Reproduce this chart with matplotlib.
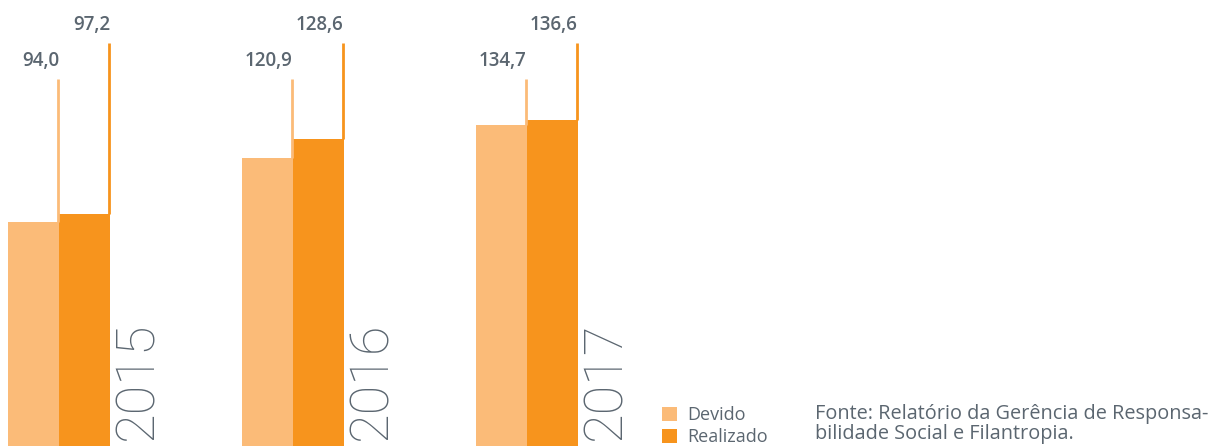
import matplotlib
matplotlib.use('Agg')
import matplotlib.pyplot as plt
import numpy as np

# data
years = ['2015', '2016', '2017']
devido = [94.0, 120.9, 134.7]
realizado = [97.2, 128.6, 136.6]
legend_labels = ['Devido', 'Realizado']
source = 'Fonte: Relatório da Gerência de Responsa-\nbilidade Social e Filantropia.'

c_dev = '#FBBB78'
c_real = '#F7941D'
c_text = '#5B6670'

plt.rcParams['font.family'] = ['Open Sans', 'DejaVu Sans']

W, H = 1222, 446
fig = plt.figure(figsize=(W / 100, H / 100), dpi=100)
ax = fig.add_axes([0, 0, 1, 1])

step = 233.75          # pixels between groups
px = 1.0 / step        # one pixel in x data units
py = 1.0 / 2.385       # one pixel in y data units
w = 51 * px

x = np.arange(len(years))
b1 = ax.bar(x - w / 2, devido, w, color=c_dev, label=legend_labels[0], linewidth=0)
b2 = ax.bar(x + w / 2, realizado, w, color=c_real, label=legend_labels[1], linewidth=0)

top_dev = (H - 79) * py
top_real = (H - 43) * py
for i in range(len(years)):
    xd = x[i] - 1 * px
    xr = x[i] + w - 1 * px
    ax.plot([xd, xd], [devido[i], top_dev], color=c_dev, lw=2, solid_capstyle='butt')
    ax.plot([xr, xr], [realizado[i], top_real], color=c_real, lw=2, solid_capstyle='butt')
    ax.text(xd + 1 * px, top_dev + 8 * py, ('%.1f' % devido[i]).replace('.', ','),
            ha='right', va='bottom', fontsize=13.5, fontweight='semibold', color=c_text)
    ax.text(xr + 1 * px, top_real + 8 * py, ('%.1f' % realizado[i]).replace('.', ','),
            ha='right', va='bottom', fontsize=13.5, fontweight='semibold', color=c_text)
    ax.text(x[i] + w + 2 * px, 6 * py, years[i], rotation=90, ha='left', va='bottom',
            fontsize=39, fontweight='light', family='Roboto', color=c_text)

ax.set_xlim(-59 * px, (W - 59) * px)
ax.set_ylim(0, H * py)
ax.axis('off')

leg = ax.legend(loc='lower left', bbox_to_anchor=(662 / W, 0 / H), frameon=False,
                fontsize=13, handlelength=0.85, handleheight=0.85, handletextpad=0.55,
                labelspacing=0.2, borderaxespad=0, borderpad=0)
for t in leg.get_texts():
    t.set_color(c_text)

fig.text(815 / W, 2 / H, source, ha='left', va='bottom', fontsize=14.3,
         color=c_text, linespacing=1.0)

plt.savefig('out.png', dpi=100)
plt.close()
